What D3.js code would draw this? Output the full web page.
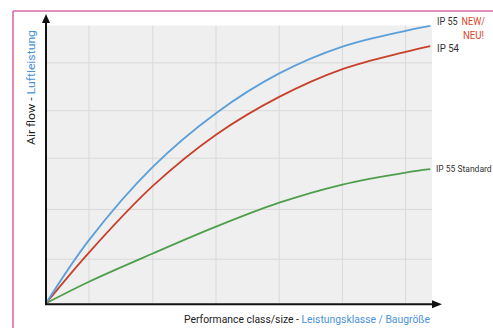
<!DOCTYPE html>
<html><head><meta charset="utf-8">
<script src="https://cdn.jsdelivr.net/npm/d3@7"></script>
<style>body{margin:0;background:#fff}svg{display:block}</style>
</head><body>
<svg id="c" width="493" height="328"></svg>
<script>
// Data (x: performance class/size units, y: air flow units)
const sizeX = [0, 0.68, 1.69, 2.69, 3.69, 4.69, 5.69, 6.08];
const ip55NewY = [0, 1.32, 2.85, 3.97, 4.80, 5.36, 5.69, 5.79];
const ip54Y = [0, 1.06, 2.45, 3.52, 4.31, 4.89, 5.25, 5.37];
const ip55StdY = [0, 0.45, 1.04, 1.60, 2.10, 2.48, 2.73, 2.80];
const xGrid = [0.68, 1.69, 2.69, 3.69, 4.69, 5.69];
const yGrid = [0.92, 1.96, 3.03, 4.02, 5.02];
const seriesNames = ["IP 55 Standard", "IP 54", "IP 55 NEW/"];

const svg = d3.select("#c");
const X0 = 46, X1 = 432, Y0 = 303.3, Y1 = 25.5;
const x = d3.scaleLinear().domain([0, (X1 - X0) / 63.2]).range([X0, X1]);
const y = d3.scaleLinear().domain([0, 5.8]).range([Y0, Y1]);

// pink frame
svg.append("line").attr("x1",13).attr("y1",11).attr("x2",493).attr("y2",11).attr("stroke","#d86aae").attr("stroke-width",1.6);
svg.append("line").attr("x1",13).attr("y1",11).attr("x2",13).attr("y2",328).attr("stroke","#d86aae").attr("stroke-width",1.6);

// plot bg
svg.append("rect").attr("x",X0).attr("y",Y1).attr("width",X1-X0).attr("height",Y0-Y1).attr("fill","#efefef");

// grid
const g = svg.append("g");
g.selectAll("line.v").data(xGrid).join("line").attr("x1",d=>x(d)).attr("x2",d=>x(d)).attr("y1",Y1).attr("y2",Y0).attr("stroke","#d9d9d9").attr("stroke-width",1);
g.selectAll("line.h").data(yGrid).join("line").attr("y1",d=>y(d)).attr("y2",d=>y(d)).attr("x1",X0).attr("x2",X1).attr("stroke","#d9d9d9").attr("stroke-width",1);

// curves
const line = d3.line().x(d=>x(d[0])).y(d=>y(d[1])).curve(d3.curveCatmullRom.alpha(0.5));
const series = [
  {ys: ip55StdY, c: "#4f9e4c"},
  {ys: ip54Y, c: "#c7412d"},
  {ys: ip55NewY, c: "#5b9fd9"}
];
series.forEach(s=>{
  svg.append("path").attr("d", line(sizeX.map((v,i)=>[v, s.ys[i]]))).attr("fill","none").attr("stroke",s.c).attr("stroke-width",1.8);
});

// axes with arrows
svg.append("line").attr("x1",X0).attr("y1",Y0+1).attr("x2",X0).attr("y2",22).attr("stroke","#111").attr("stroke-width",2);
svg.append("path").attr("d",`M${X0-4},23 L${X0},14 L${X0+4},23 Z`).attr("fill","#111");
svg.append("line").attr("x1",X0-1).attr("y1",Y0+1).attr("x2",433).attr("y2",Y0+1).attr("stroke","#111").attr("stroke-width",2);
svg.append("path").attr("d",`M432,${Y0-3} L442,${Y0+1} L432,${Y0+5} Z`).attr("fill","#111");

const font = "Roboto, 'Liberation Sans', sans-serif";
// labels
const t1 = svg.append("text").attr("x",437).attr("y",25).attr("font-family",font).attr("font-size",10.5).attr("fill","#333")
  .attr("textLength",48).attr("lengthAdjust","spacingAndGlyphs");
t1.append("tspan").text("IP 55 ");
t1.append("tspan").attr("fill","#d9452b").text("NEW/").attr("dx",2);
svg.append("text").attr("x",463).attr("y",39).attr("font-family",font).attr("font-size",10.5).attr("fill","#d9452b")
  .attr("textLength",21).attr("lengthAdjust","spacingAndGlyphs").text("NEU!");
svg.append("text").attr("x",437).attr("y",52).attr("font-family",font).attr("font-size",10.5).attr("fill","#333")
  .attr("textLength",22).attr("lengthAdjust","spacingAndGlyphs").text(seriesNames[1]);
svg.append("text").attr("x",436).attr("y",172).attr("font-family",font).attr("font-size",8.5).attr("fill","#333")
  .text(seriesNames[0]);

// x title
const xt = svg.append("text").attr("x",184).attr("y",323).attr("font-family",font).attr("font-size",11).attr("fill","#222")
  .attr("textLength",246).attr("lengthAdjust","spacingAndGlyphs");
xt.append("tspan").text("Performance class/size - ");
xt.append("tspan").attr("fill","#4a93d8").text("Leistungsklasse / Baugröße");

// y title
const yt = svg.append("text").attr("transform","translate(35,145) rotate(-90)").attr("font-family",font).attr("font-size",11).attr("fill","#222")
  .attr("textLength",115).attr("lengthAdjust","spacingAndGlyphs");
yt.append("tspan").text("Air flow - ");
yt.append("tspan").attr("fill","#4a93d8").text("Luftleistung");
</script>
</body></html>
